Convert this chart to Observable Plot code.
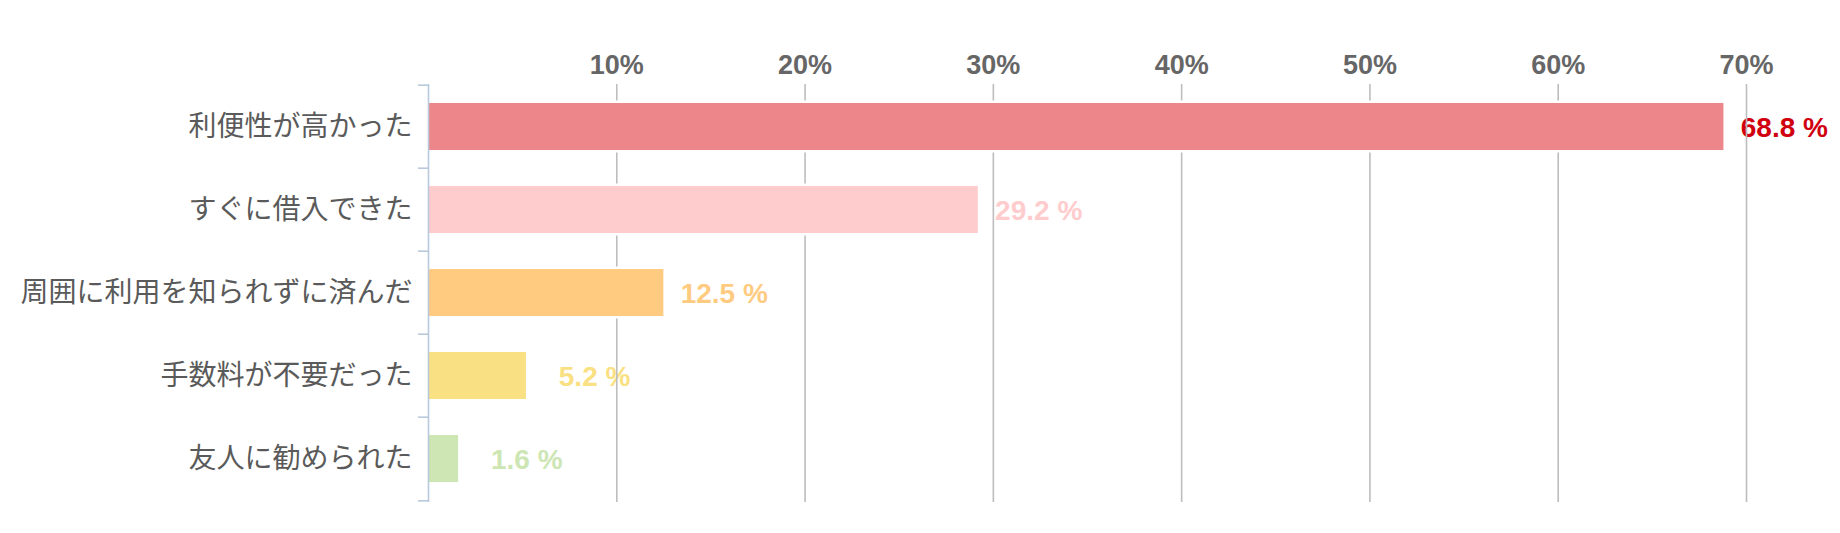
<!DOCTYPE html>
<html>
<head>
<meta charset="utf-8">
<script src="https://cdn.jsdelivr.net/npm/d3@7"></script>
<script src="https://cdn.jsdelivr.net/npm/@observablehq/plot@0.6"></script>
<style>
  html, body { margin: 0; padding: 0; background: #fff; }
  #chart svg { display: block; }
</style>
</head>
<body>
<div id="chart"></div>
<script>
// ---- data ----
const categories = ["利便性が高かった", "すぐに借入できた", "周囲に利用を知られずに済んだ", "手数料が不要だった", "友人に勧められた"];
const values = [68.8, 29.2, 12.5, 5.2, 1.6];
const barColors = ["#ec868b", "#ffcccd", "#fecb80", "#f9e082", "#cde6b4"];
const labelColors = ["#d0000f", "#ffcccd", "#fecb80", "#f9e082", "#cde6b4"];
const xTicks = [10, 20, 30, 40, 50, 60, 70];

const rows = categories.map((c, i) => ({cat: c, value: values[i], bar: barColors[i], label: labelColors[i]}));

const W = 1840, H = 533;
const mTop = 84, mBottom = 31, mLeft = 428, mRight = 94;
const step = (H - mTop - mBottom) / categories.length;
const latin = "'Liberation Sans', Arial, Helvetica, sans-serif";

const chart = Plot.plot({
  width: W,
  height: H,
  marginTop: mTop,
  marginBottom: mBottom,
  marginLeft: mLeft,
  marginRight: mRight,
  style: {background: "#fff", overflow: "visible"},
  x: {domain: [0, 70]},
  y: {domain: categories, paddingInner: 0.433, paddingOuter: 0.2165},
  marks: [
    // value labels (under gridlines, as in the reference)
    Plot.text(rows, {
      x: "value", y: "cat", text: d => d.value.toFixed(1) + " %",
      textAnchor: "end", dx: 104, dy: 1,
      fill: d => d.label, fontSize: 28, fontWeight: "bold", fontFamily: latin
    }),
    Plot.gridX(xTicks, {stroke: "#bdbdbd", strokeOpacity: 1, strokeWidth: 1.6}),
    // white halo behind bars
    Plot.barX(rows, {x: "value", y: "cat", fill: "#fff", insetTop: -2.5, insetBottom: -2.5}),
    Plot.barX(rows, {x: "value", y: "cat", fill: d => d.bar}),
    // left axis line and band-boundary ticks
    Plot.ruleX([0], {stroke: "#b9c9dc", strokeWidth: 1.6}),
    Plot.ruleY(categories, {y: d => d, x1: -0.53, x2: 0, dy: -step / 2, stroke: "#b9c9dc", strokeWidth: 1.6}),
    Plot.ruleY([categories[categories.length - 1]], {y: d => d, x1: -0.53, x2: 0, dy: step / 2, stroke: "#b9c9dc", strokeWidth: 1.6}),
    Plot.axisX({
      anchor: "top", ticks: xTicks, tickSize: 0, tickPadding: 11,
      tickFormat: d => d + "%", label: null,
      fontSize: 27, fontWeight: "bold", fill: "#666", fontFamily: latin
    }),
    Plot.axisY({
      tickSize: 0, tickPadding: 16, label: null,
      fontSize: 28, fill: "#5a5a5a", fontFamily: "'Noto Sans CJK JP', 'Noto Sans', sans-serif"
    })
  ]
});
document.getElementById("chart").appendChild(chart);
</script>
</body>
</html>
